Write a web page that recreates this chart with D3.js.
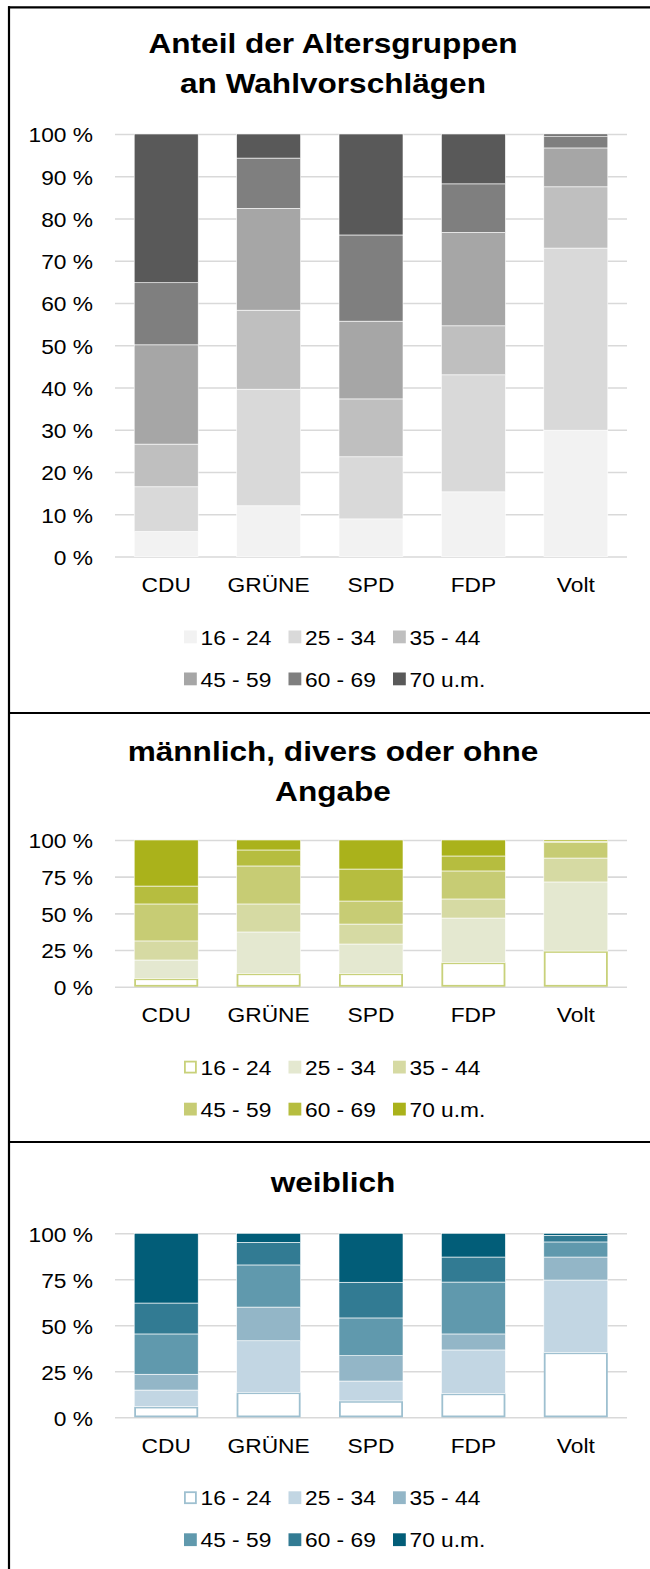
<!DOCTYPE html>
<html>
<head>
<meta charset="utf-8">
<script src="https://cdn.jsdelivr.net/npm/d3@7"></script>
<style>
  html, body { margin: 0; padding: 0; background: #fff; }
  svg { display: block; }
  text { font-family: "Liberation Sans", Arial, sans-serif; fill: #000; }
</style>
</head>
<body>
<div id="chart"></div>
<script>
// categories and series
let parties = ["CDU", "GRÜNE", "SPD", "FDP", "Volt"];
let ageGroups = ["16 - 24", "25 - 34", "35 - 44", "45 - 59", "60 - 69", "70 u.m."];

// shares in % per party, one value per age group (16-24 ... 70 u.m.)
let sharesAll = [
  [5.9, 10.6, 10.1, 23.5, 14.7, 35.2],
  [12.0, 27.6, 18.7, 24.1, 11.9, 5.7],
  [8.9, 14.7, 13.7, 18.4, 20.4, 23.9],
  [15.3, 27.7, 11.6, 22.1, 11.5, 11.8],
  [29.9, 43.1, 14.5, 9.2, 2.8, 0.5]
];
let sharesMale = [
  [5.7, 12.5, 13.0, 25.2, 12.2, 31.4],
  [9.1, 28.2, 19.1, 25.9, 10.9, 6.8],
  [9.1, 20.0, 13.6, 15.7, 21.8, 19.8],
  [16.6, 30.2, 13.0, 19.1, 10.2, 10.9],
  [24.3, 47.1, 16.3, 10.5, 0.9, 0.9]
];
let sharesFemale = [
  [5.8, 9.0, 8.6, 21.9, 16.8, 37.9],
  [13.6, 28.0, 18.3, 22.9, 12.3, 4.9],
  [8.9, 10.8, 13.8, 20.5, 19.4, 26.6],
  [13.0, 23.6, 8.7, 28.2, 13.6, 12.9],
  [35.3, 39.3, 12.5, 8.2, 3.6, 1.1]
];

let ticksAll = [0, 10, 20, 30, 40, 50, 60, 70, 80, 90, 100];
let ticksGender = [0, 25, 50, 75, 100];

let colorsGray = ["#f2f2f2", "#d9d9d9", "#bfbfbf", "#a6a6a6", "#7f7f7f", "#595959"];
let colorsGreen = ["#ffffff", "#e4e8d0", "#d6daa3", "#c7cc74", "#b6bd3f", "#aab21b"];
let colorsBlue = ["#ffffff", "#c2d6e3", "#93b6c7", "#6099ad", "#327b93", "#025d78"];

const W = 650, H = 1569;
const SX = 1.11;       // the reference text is stretched a bit horizontally
const SXT = 1.17;
const fontSize = 20.5, titleSize = 27;

let svg = d3.select("#chart").append("svg")
  .attr("width", W)
  .attr("height", H);

svg.append("rect").attr("width", W).attr("height", H).attr("fill", "#fff");

let x = d3.scaleBand()
  .domain(parties)
  .range([115, 627])
  .paddingInner(0.375)
  .paddingOuter(0.1875);

function stretchedText(g, str, px, py, size, bold, sx) {
  return g.append("text")
    .attr("transform", "translate(" + px + "," + py + ") scale(" + sx + ",1)")
    .attr("text-anchor", "middle")
    .style("font-size", size + "px")
    .style("font-weight", bold ? "bold" : "normal")
    .text(str);
}

// draw one stacked panel
function drawPanel(cfg) {
  let g = svg.append("g");

  cfg.title.forEach(function(line, i) {
    stretchedText(g, line, 333, cfg.titleY + i * 40, titleSize, true, SXT);
  });

  let y = d3.scaleLinear().domain([0, 100]).range([cfg.bottom, cfg.top]);

  // grid + y labels
  let yAxis = g.append("g")
    .attr("transform", "translate(115,0)")
    .call(d3.axisLeft(y).tickValues(cfg.ticks).tickSizeInner(-512).tickSizeOuter(0)
      .tickPadding(22).tickFormat(d => d + " %"));
  yAxis.select(".domain").remove();
  yAxis.selectAll("line").attr("stroke", "#d9d9d9").attr("stroke-width", 1.6);
  yAxis.selectAll("text")
    .style("font-size", fontSize + "px")
    .style("font-family", '"Liberation Sans", Arial, sans-serif')
    .attr("fill", "#000")
    .attr("x", -22 / SX)
    .attr("dy", "0.38em")
    .attr("transform", "scale(" + SX + ",1)");

  // stacked bars
  let table = parties.map(function(p, i) {
    let row = { party: p };
    ageGroups.forEach(function(a, j) { row[a] = cfg.data[i][j]; });
    return row;
  });
  let series = d3.stack().keys(ageGroups)(table);

  series.forEach(function(s, j) {
    let hollow = cfg.outline && j === 0;
    g.append("g").selectAll("rect")
      .data(s).enter()
      .append("rect")
      .attr("x", d => x(d.data.party) + (hollow ? 0.9 : 0))
      .attr("y", d => y(d[1]) + (hollow ? 0.9 : 0))
      .attr("width", x.bandwidth() - (hollow ? 1.8 : 0))
      .attr("height", d => Math.max(0, y(d[0]) - y(d[1]) - (hollow ? 1.8 : 0)))
      .attr("fill", cfg.colors[j])
      .attr("stroke", hollow ? cfg.outline : "#ffffff")
      .attr("stroke-width", hollow ? 1.8 : 0.6);
  });

  // category labels
  let xAxis = g.append("g")
    .attr("transform", "translate(0," + cfg.bottom + ")")
    .call(d3.axisBottom(x).tickSize(0).tickPadding(21));
  xAxis.select(".domain").remove();
  xAxis.selectAll("text")
    .style("font-size", fontSize + "px")
    .style("font-family", '"Liberation Sans", Arial, sans-serif')
    .attr("fill", "#000")
    .attr("transform", "scale(" + SX + ",1)");

  // legend, two rows of three
  let legY = cfg.bottom + 80.5;
  ageGroups.forEach(function(a, j) {
    let col = j % 3, row = Math.floor(j / 3);
    let lx = 184 + col * 104.5, ly = legY + row * 42;
    let hollow = cfg.outline && j === 0;
    g.append("rect")
      .attr("x", lx + (hollow ? 0.9 : 0))
      .attr("y", ly - 6.5 + (hollow ? 0.9 : 0))
      .attr("width", hollow ? 11 : 12.8)
      .attr("height", hollow ? 11 : 12.8)
      .attr("fill", cfg.colors[j])
      .attr("stroke", hollow ? cfg.outline : "none")
      .attr("stroke-width", hollow ? 1.8 : 0);
    g.append("text")
      .attr("transform", "translate(" + (lx + 16.5) + "," + (ly + 7.5) + ") scale(" + SX + ",1)")
      .style("font-size", fontSize + "px")
      .text(a);
  });
}

drawPanel({
  title: ["Anteil der Altersgruppen", "an Wahlvorschlägen"],
  titleY: 53, top: 134, bottom: 556.5,
  ticks: ticksAll, data: sharesAll, colors: colorsGray, outline: null
});

drawPanel({
  title: ["männlich, divers oder ohne", "Angabe"],
  titleY: 761, top: 840, bottom: 986.7,
  ticks: ticksGender, data: sharesMale, colors: colorsGreen, outline: "#c8d17a"
});

drawPanel({
  title: ["weiblich"],
  titleY: 1192, top: 1233.3, bottom: 1417.3,
  ticks: ticksGender, data: sharesFemale, colors: colorsBlue, outline: "#9ec0d0"
});

// frame lines: top, left and the two dividers
let frame = svg.append("g").attr("stroke", "#000").attr("stroke-width", 2.2);
frame.append("line").attr("x1", 8).attr("x2", W).attr("y1", 7.3).attr("y2", 7.3);
frame.append("line").attr("x1", 9).attr("x2", 9).attr("y1", 6.2).attr("y2", H);
frame.append("line").attr("x1", 8).attr("x2", W).attr("y1", 713).attr("y2", 713);
frame.append("line").attr("x1", 8).attr("x2", W).attr("y1", 1142).attr("y2", 1142);
</script>
</body>
</html>
